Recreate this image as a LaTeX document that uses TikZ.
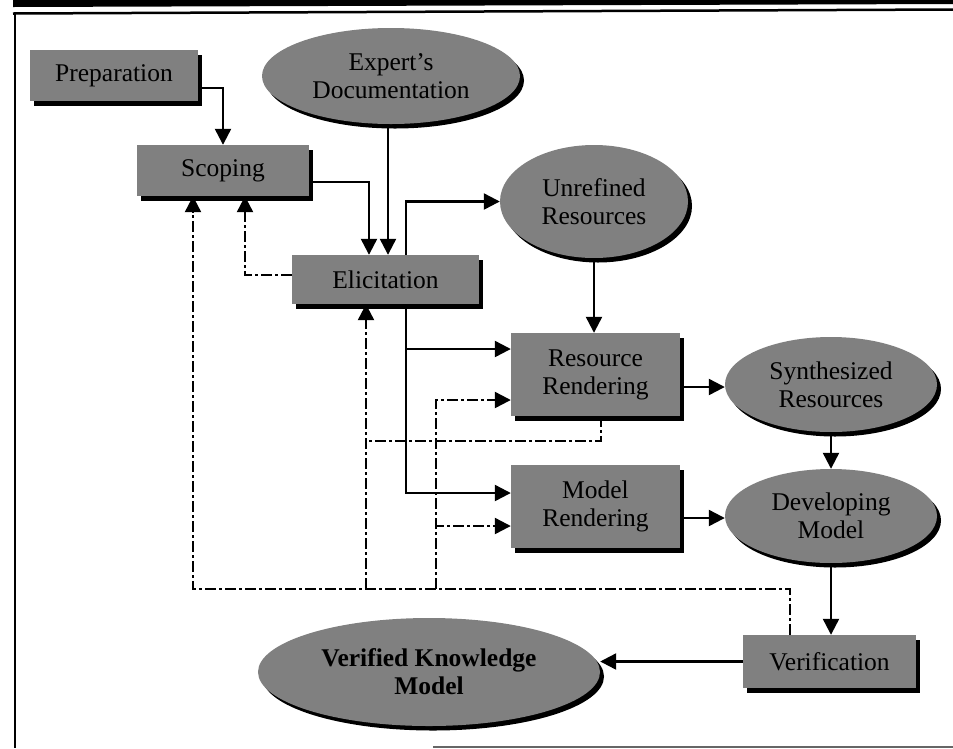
\documentclass[tikz,border=0pt]{standalone}
\usepackage{fontspec}
\setmainfont{Liberation Serif}
\usetikzlibrary{arrows.meta,shapes.geometric,shadows}
\begin{document}
\begin{tikzpicture}[x=1pt,y=-1pt,
  grayfill/.style={fill=black!50, drop shadow={shadow xshift=4pt,shadow yshift=-4.5pt,fill=black,opacity=1}},
  box/.style={grayfill, rectangle, inner sep=0pt, font=\fontsize{25.5}{28}\selectfont, align=center},
  oval/.style={grayfill, ellipse, inner sep=0pt, font=\fontsize{25.5}{28}\selectfont, align=center},
  ln/.style={line width=2.3pt},
  arr/.style={ln, -{Triangle[length=16pt,width=16pt]}},
  ddl/.style={ln, dash pattern=on 11pt off 3pt on 3pt off 3pt},
  dd/.style={ddl, -{Triangle[length=16pt,width=16pt]}}
]
\useasboundingbox (0,0) rectangle (953,748);
\fill[white] (0,0) rectangle (953,748);
% frame
\fill[black] (13,0) -- (953,0) -- (953,4) -- (13,7) -- cycle;
\draw[line width=2.5pt] (13,13.5) -- (953,9.5);
\draw[line width=2.5pt] (15,12.5) -- (15,748);
\draw[line width=1.2pt, black!60] (433,747) -- (953,747);

% nodes
\node[box, minimum width=168pt, minimum height=51pt] (prep) at (114,75.5) {Preparation};
\node[oval, minimum width=258pt, minimum height=96pt] (exp) at (391,76) {Expert's\\Documentation};
\node[box, minimum width=172pt, minimum height=51pt] (scop) at (223,170.5) {Scoping};
\node[box, minimum width=187pt, minimum height=49pt] (elic) at (385.5,279.5) {Elicitation};
\node[oval, minimum width=188pt, minimum height=113pt] (unref) at (594,201.5) {Unrefined\\Resources};
\node[box, minimum width=169pt, minimum height=83pt] (rr) at (595.5,374.5) {Resource\\Rendering};
\node[oval, minimum width=212pt, minimum height=95pt] (synth) at (831,384.5) {Synthesized\\Resources};
\node[box, minimum width=169pt, minimum height=83pt] (mr) at (595.5,506.5) {Model\\Rendering};
\node[oval, minimum width=212pt, minimum height=94pt] (dev) at (831,516) {Developing\\Model};
\node[box, minimum width=173pt, minimum height=53pt] (verif) at (829.5,661.5) {Verification};
\node[oval, minimum width=342pt, minimum height=108pt, font=\fontsize{25.5}{28}\selectfont\bfseries] (vkm) at (429,672) {Verified Knowledge\\Model};

% helper coordinates
\coordinate (cexp) at (388,0);
\coordinate (cscp) at (369,0);
\coordinate (cel) at (406,0);
\coordinate (cfa) at (245,0);
\coordinate (fb) at (790,589);
\coordinate (fl) at (193,589);
\coordinate (b1) at (366,589);
\coordinate (b2) at (436,589);
\coordinate (j1) at (366,441);
\coordinate (prepout) at ([yshift=-12.5pt]prep.east);
\coordinate (scopout) at ([yshift=-11.5pt]scop.east);
\coordinate (rrin1) at ([yshift=25.5pt]rr.west);
\coordinate (mrin1) at ([yshift=13.5pt]mr.west);
\coordinate (rrin2) at ([yshift=-25.5pt]rr.west);
\coordinate (mrin2) at ([yshift=-19.5pt]mr.west);
\coordinate (rrout) at ([yshift=-12.5pt]rr.east);
\coordinate (mrout) at ([yshift=-11.5pt]mr.east);
\coordinate (elicout) at ([yshift=4.5pt]elic.west);
\coordinate (rrdown) at ([xshift=5.5pt]rr.south);

% solid connectors
\draw[arr] (prepout) -| (scop.north);
\draw[arr] (cexp |- exp.south) -- (cexp |- elic.north);
\draw[arr] (scopout) -| (cscp |- elic.north);
\draw[arr] (cel |- elic.north) |- (unref.west);
\draw[arr] (cel |- elic.south) |- (rrin1);
\draw[arr] (cel |- elic.south) |- (mrin1);
\draw[arr] (unref.south) -- (unref.south |- rr.north);
\draw[arr] (rrout) -- (rrout -| synth.west);
\draw[arr] (synth.south) -- (dev.north);
\draw[arr] (mrout) -- (mrout -| dev.west);
\draw[arr] (dev.south) -- (dev.south |- verif.north);
\draw[arr] (verif.west) -- (verif.west -| vkm.east);

% dash-dot feedback connectors
\draw[dd] (elicout) -| (cfa |- scop.south);
\draw[dd] (fb |- verif.north) -- (fb) -- (fl) -- (fl |- scop.south);
\draw[dd] (b1) -- (b1 |- elic.south);
\draw[dd] (b2) |- (rrin2);
\draw[dd] (b2) |- (mrin2);
\draw[ddl] (rrdown) |- (j1);
\end{tikzpicture}
\end{document}
